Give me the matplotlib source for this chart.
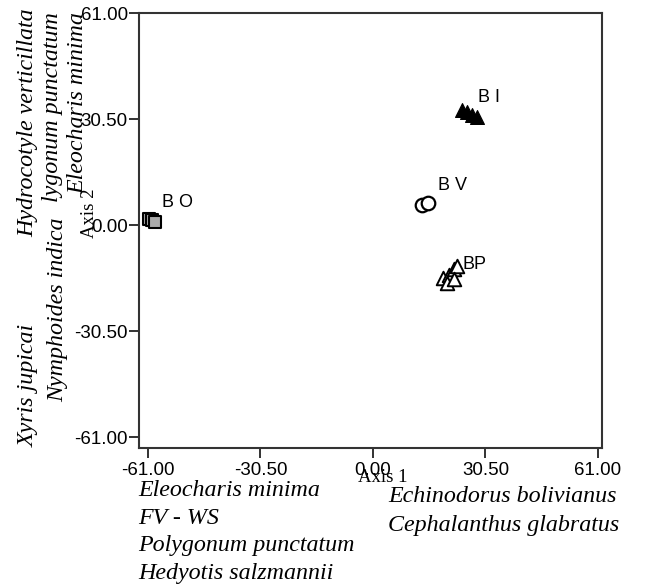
import matplotlib
matplotlib.use("Agg")
import matplotlib.pyplot as plt
from matplotlib.ticker import FixedLocator, FormatStrFormatter

# ---- data ----
bo_x = [-60.8, -59.8, -59.1]
bo_y = [1.9, 1.5, 1.0]
bi_x = [24.1, 25.5, 26.8, 28.2]
bi_y = [33.1, 32.5, 31.7, 31.1]
bv_x = [13.3, 14.9]
bv_y = [5.8, 6.3]
bp_x = [19.0, 20.5, 21.9, 22.9, 20.0, 22.0]
bp_y = [-15.3, -14.4, -12.6, -11.8, -16.5, -15.5]

group_names = ["B O", "B I", "B V", "BP"]
group_label_x = [-57.2, 28.5, 17.6, 24.4]
group_label_y = [6.6, 36.8, 11.5, -11.2]

ticks = [-61.0, -30.5, 0.0, 30.5, 61.0]

left_species = [
    ("Hydrocotyle verticillata", 28, 8, 'top'),
    ("Xyris jupicai", 28, 447, 'bottom'),
    ("lygonum punctatum", 53, 12, 'top'),
    ("Nymphoides indica", 58, 402, 'bottom'),
    ("Eleocharis minima", 78, 12, 'top'),
]
bottom_left_species = ["Eleocharis minima", "FV - WS", "Polygonum punctatum", "Hedyotis salzmannii"]
bottom_right_species = ["Echinodorus bolivianus", "Cephalanthus glabratus"]

W, H = 648, 585
fig = plt.figure(figsize=(W / 100, H / 100), dpi=100)
ax_l, ax_r, ax_t, ax_b = 139, 602, 13, 448
ax = fig.add_axes([ax_l / W, 1 - ax_b / H, (ax_r - ax_l) / W, (ax_b - ax_t) / H])
ax.set_xlim(-63.4, 62.1)
ax.set_ylim(-64.1, 61.1)

ax.scatter(bo_x, bo_y, marker='s', s=75, facecolor='#aaaaaa', edgecolor='black', linewidth=1.5, zorder=3)
ax.scatter(bi_x, bi_y, marker='^', s=100, facecolor='black', edgecolor='black', linewidth=0.8, zorder=3)
ax.scatter(bv_x, bv_y, marker='o', s=95, facecolor='white', edgecolor='black', linewidth=1.6, zorder=3)
ax.scatter(bp_x, bp_y, marker='^', s=95, facecolor='white', edgecolor='black', linewidth=1.4, zorder=3)

for name, lx, ly in zip(group_names, group_label_x, group_label_y):
    ax.text(lx, ly, name, family='Liberation Sans', fontsize=13, ha='left', va='center')

ax.xaxis.set_major_locator(FixedLocator(ticks))
ax.yaxis.set_major_locator(FixedLocator(ticks))
ax.xaxis.set_major_formatter(FormatStrFormatter('%.2f'))
ax.yaxis.set_major_formatter(FormatStrFormatter('%.2f'))
for lab in ax.get_xticklabels() + ax.get_yticklabels():
    lab.set_family('Liberation Sans')
    lab.set_fontsize(13.5)
ax.tick_params(direction='out', length=7, width=1.3, color='#222222')
ax.tick_params(axis='y', pad=1)
ax.tick_params(axis='x', pad=3)
for sp in ax.spines.values():
    sp.set_linewidth(1.5)
    sp.set_color('#333333')

# axis labels
fig.text(383 / W, 1 - 478 / H, "Axis 1", family='Liberation Serif', fontsize=13.5, ha='center', va='center')
fig.text(89 / W, 1 - 213 / H, "Axis 2", family='Liberation Serif', fontsize=13.5, rotation=90, ha='center', va='center')

for txt, x, y, va in left_species:
    fig.text(x / W, 1 - y / H, txt, family='Liberation Serif', style='italic', fontsize=17.3,
             rotation=90, ha='center', va=va)

for i, txt in enumerate(bottom_left_species):
    fig.text(138 / W, 1 - (490 + 28 * i) / H, txt, family='Liberation Serif', style='italic',
             fontsize=17.3, ha='left', va='center')
for i, txt in enumerate(bottom_right_species):
    fig.text(388 / W, 1 - (496 + 29 * i) / H, txt, family='Liberation Serif', style='italic',
             fontsize=17.3, ha='left', va='center')

fig.savefig("out.png", dpi=100, facecolor='white')
